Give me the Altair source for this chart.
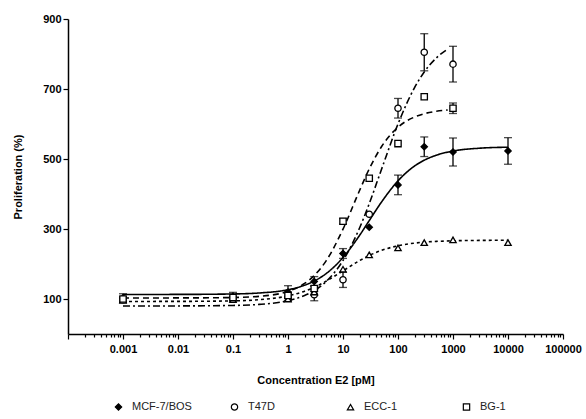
import altair as alt
import pandas as pd

FONT = "Liberation Sans"

series_names = ["MCF-7/BOS", "T47D", "ECC-1", "BG-1"]
series_shapes = ["diamond", "circle", "triangle-up", "square"]
series_fills = ["black", "white", "white", "white"]
series_strokes = ["black", "black", "black", "black"]
series_dashes = [[1, 0], [7, 3, 2, 3], [3, 3], [6, 4]]

# Measured means (proliferation %) and error (+/-) per E2 concentration (pM)
mcf_conc = [0.001, 0.1, 1, 3, 10, 30, 100, 300, 1000, 10000]
mcf_val = [103, 107, 120, 150, 230, 305, 426, 535, 520, 523]
mcf_err = [12, 12, 18, 14, 14, 0, 28, 28, 40, 38]

t47d_conc = [0.001, 0.1, 1, 3, 10, 30, 100, 300, 1000]
t47d_val = [98, 100, 105, 112, 155, 342, 645, 805, 771]
t47d_err = [8, 6, 10, 17, 22, 0, 28, 53, 51]

ecc_conc = [0.001, 0.1, 1, 3, 10, 30, 100, 300, 1000, 10000]
ecc_val = [96, 98, 100, 120, 185, 226, 246, 261, 269, 261]
ecc_err = [6, 0, 6, 8, 0, 0, 0, 0, 0, 0]

bg_conc = [0.001, 0.1, 1, 3, 10, 30, 100, 300, 1000]
bg_val = [100, 104, 110, 130, 322, 445, 544, 678, 645]
bg_err = [6, 0, 8, 8, 8, 0, 0, 0, 15]

# Fitted dose-response curves, sampled along the concentration axis
mcf_curve_conc = [0.001, 0.01, 0.1, 0.3, 1, 2, 3, 5, 10, 20, 30, 50, 100, 200, 300, 500, 1000, 3000, 10000]
mcf_curve_val = [113.0, 113.1, 114.4, 117.2, 126.6, 139.4, 151.4, 173.3, 218.5, 281.8, 324.0, 376.8, 437.6, 480.0, 496.6, 511.0, 522.7, 530.8, 533.7]

t47d_curve_conc = [0.001, 0.01, 0.1, 0.3, 1, 2, 3, 5, 10, 20, 30, 50, 100, 200, 300, 500, 800]
t47d_curve_val = [80.0, 80.2, 81.6, 84.6, 95.3, 110.0, 124.1, 150.9, 210.0, 302.9, 372.5, 470.0, 600.0, 704.0, 748.6, 789.0, 814.0]

ecc_curve_conc = [0.001, 0.01, 0.1, 0.3, 1, 2, 3, 5, 10, 20, 30, 50, 100, 200, 300, 500, 1000, 3000, 10000]
ecc_curve_val = [93.0, 93.2, 94.7, 98.1, 108.9, 122.2, 133.4, 151.3, 180.5, 209.7, 224.3, 238.8, 252.1, 259.7, 262.4, 264.6, 266.3, 267.4, 267.8]

bg_curve_conc = [0.001, 0.01, 0.1, 0.3, 1, 2, 3, 5, 10, 20, 30, 50, 100, 200, 300, 500, 800]
bg_curve_val = [103.0, 103.1, 104.2, 107.6, 121.8, 144.4, 167.1, 210.5, 299.6, 410.0, 471.7, 534.9, 590.9, 620.0, 629.4, 636.4, 640.0]

# Axis tick positions
x_major = [0.0001, 0.001, 0.01, 0.1, 1, 10, 100, 1000, 10000, 100000]
x_minor_mult = [2, 3, 4, 5, 6, 7, 8, 9]
y_ticks = [100, 200, 300, 400, 500, 600, 700, 800, 900]

points_src = [
    ("MCF-7/BOS", mcf_conc, mcf_val, mcf_err),
    ("T47D", t47d_conc, t47d_val, t47d_err),
    ("ECC-1", ecc_conc, ecc_val, ecc_err),
    ("BG-1", bg_conc, bg_val, bg_err),
]
curves_src = [
    ("MCF-7/BOS", mcf_curve_conc, mcf_curve_val),
    ("T47D", t47d_curve_conc, t47d_curve_val),
    ("ECC-1", ecc_curve_conc, ecc_curve_val),
    ("BG-1", bg_curve_conc, bg_curve_val),
]

pts = pd.DataFrame(
    [{"series": s, "conc": c, "value": v} for s, cs, vs, es in points_src for c, v in zip(cs, vs)]
)
errs = pd.DataFrame(
    [
        {"series": s, "conc": c, "lo": v - e, "hi": v + e}
        for s, cs, vs, es in points_src
        for c, v, e in zip(cs, vs, es)
        if e > 0
    ]
)
curves = pd.DataFrame(
    [
        {"fit": s, "conc": c, "value": v, "i": i}
        for s, cs, vs in curves_src
        for i, (c, v) in enumerate(zip(cs, vs))
    ]
)

x_ticks = sorted(
    [round(m * d, 6) for d in x_major[:-1] for m in x_minor_mult] + x_major
)

x_scale = alt.Scale(type="log", domain=[0.0001, 100000], nice=False)
y_scale = alt.Scale(domain=[0, 900], nice=False, zero=False)

x_axis = alt.Axis(
    values=x_ticks,
    title="Concentration E2 [pM]",
    labelExpr=(
        "(abs(log(datum.value)/LN10 - round(log(datum.value)/LN10)) < 1e-6 "
        "&& datum.value >= 0.001) ? format(datum.value, '~g') : ''"
    ),
    labelOverlap=False,
    labelFlush=False,
    tickSize={
        "condition": {
            "test": "abs(log(datum.value)/LN10 - round(log(datum.value)/LN10)) < 1e-6",
            "value": 5,
        },
        "value": 3,
    },
    labelPadding=4,
    titlePadding=20,
    grid=False,
)
y_axis = alt.Axis(
    values=y_ticks,
    title="Proliferation (%)",
    labelExpr="datum.value % 200 == 100 ? format(datum.value, 'd') : ''",
    labelOverlap=False,
    tickSize={
        "condition": {"test": "datum.value % 200 == 100", "value": 5},
        "value": 3,
    },
    labelPadding=2,
    titlePadding=19,
    grid=False,
)

X = alt.X("conc:Q", scale=x_scale, axis=x_axis)
Y = alt.Y("value:Q", scale=y_scale, axis=y_axis)

# One fitted curve per cell line, each with its own dash pattern
curve_layers = [
    alt.Chart(curves)
    .transform_filter(alt.datum.fit == name)
    .mark_line(color="black", strokeWidth=1.6, interpolate="monotone", strokeDash=dash)
    .encode(x=X, y=Y, order="i:Q")
    for name, dash in zip(series_names, series_dashes)
]

err_rules = (
    alt.Chart(errs)
    .mark_rule(color="black", strokeWidth=1.3)
    .encode(x=alt.X("conc:Q", scale=x_scale), y=alt.Y("lo:Q", scale=y_scale), y2="hi:Q")
)
err_lo = (
    alt.Chart(errs)
    .mark_tick(color="black", orient="horizontal", size=8, thickness=1.3)
    .encode(x=alt.X("conc:Q", scale=x_scale), y=alt.Y("lo:Q", scale=y_scale))
)
err_hi = (
    alt.Chart(errs)
    .mark_tick(color="black", orient="horizontal", size=8, thickness=1.3)
    .encode(x=alt.X("conc:Q", scale=x_scale), y=alt.Y("hi:Q", scale=y_scale))
)

legend = alt.Legend(
    title=None,
    orient="none",
    legendX=45,
    legendY=382,
    direction="horizontal",
    columns=4,
    gridAlign="all",
    columnPadding=36,
    labelOffset=8,
    labelFont=FONT,
    labelFontSize=11,
    labelColor="#222222",
    symbolSize=40,
    symbolStrokeWidth=1.2,
)

points = (
    alt.Chart(pts)
    .mark_point(strokeWidth=1.3, size=40, opacity=1)
    .encode(
        x=X,
        y=Y,
        shape=alt.Shape(
            "series:N",
            scale=alt.Scale(domain=series_names, range=series_shapes),
            legend=legend,
        ),
        fill=alt.Fill(
            "series:N",
            scale=alt.Scale(domain=series_names, range=series_fills),
            legend=legend,
        ),
        stroke=alt.Stroke(
            "series:N",
            scale=alt.Scale(domain=series_names, range=series_strokes),
            legend=legend,
        ),
    )
)

chart = (
    alt.layer(err_rules, err_lo, err_hi, *curve_layers, points)
    .properties(
        width=495,
        height=315,
        autosize=alt.AutoSizeParams(type="none"),
        padding={"left": 68, "top": 19, "right": 23, "bottom": 85},
        background="white",
    )
    .configure_view(stroke=None)
    .configure_axis(
        labelFont=FONT,
        labelFontSize=11,
        labelFontWeight="bold",
        labelColor="black",
        titleFont=FONT,
        titleFontSize=11,
        titleFontWeight="bold",
        titleColor="black",
        domainColor="black",
        domainWidth=1.5,
        tickColor="black",
        tickWidth=1.2,
    )
)

chart.save("out.html", embed_options={"renderer": "svg", "actions": False})
